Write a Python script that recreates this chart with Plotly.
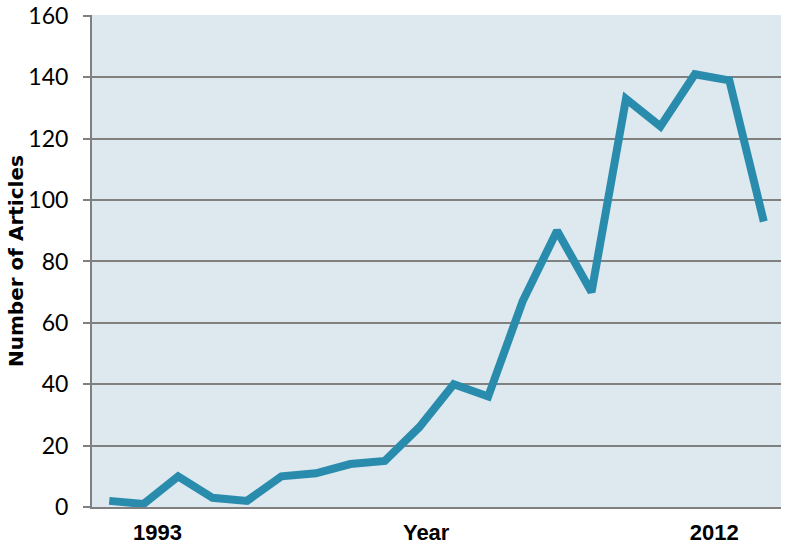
import plotly.graph_objects as go

years = list(range(1992, 2012))
articles = [2, 1, 10, 3, 2, 10, 11, 14, 15, 26, 40, 36, 67, 90, 70, 133, 124, 141, 139, 93]
x_tick_pos = [1993.4, 2001.2, 2009.56]
x_tick_text = ["<b>1993</b>", "<b>Year</b>", "<b>2012</b>"]
y_ticks = [0, 20, 40, 60, 80, 100, 120, 140, 160]
y_title = "Number of Articles"

fig = go.Figure()
fig.add_trace(go.Scatter(x=years, y=articles, mode="lines",
                         line=dict(color="#2a8cad", width=8), hoverinfo="skip"))

fig.update_layout(
    width=787, height=551,
    margin=dict(l=92, r=6, t=15, b=44, autoexpand=False),
    paper_bgcolor="white", plot_bgcolor="#dde8ef",
    showlegend=False,
    font=dict(family="Lato, sans-serif", color="black"),
)
fig.add_annotation(text="<b>" + y_title + "</b>", xref="paper", yref="paper",
                   x=-0.1103, y=0.5, xanchor="center", yanchor="middle",
                   textangle=-90, showarrow=False,
                   font=dict(size=20, family="DejaVu Sans, sans-serif", color="black"))
fig.update_xaxes(range=[1991.5, 2011.5], tickmode="array", tickvals=x_tick_pos,
                 ticktext=x_tick_text, showgrid=False, zeroline=False,
                 showline=True, linecolor="#808080", linewidth=2,
                 ticks="", automargin=False,
                 tickfont=dict(size=22, family="Liberation Sans Narrow, sans-serif"),
                 ticklabelstandoff=5)
fig.update_yaxes(range=[0, 160.3], tickmode="array", tickvals=y_ticks,
                 showgrid=True, gridcolor="#808080", gridwidth=2, automargin=False,
                 zeroline=False, showline=True, linecolor="#808080", linewidth=2,
                 ticks="outside", ticklen=7, tickcolor="#808080", tickwidth=2,
                 ticklabelstandoff=10, ticklabeloverflow="allow",
                 tickfont=dict(size=23, family="Lato, sans-serif"))
fig.write_html("out.html", config={"displayModeBar": False},
               post_script="document.body.style.margin='0';")
